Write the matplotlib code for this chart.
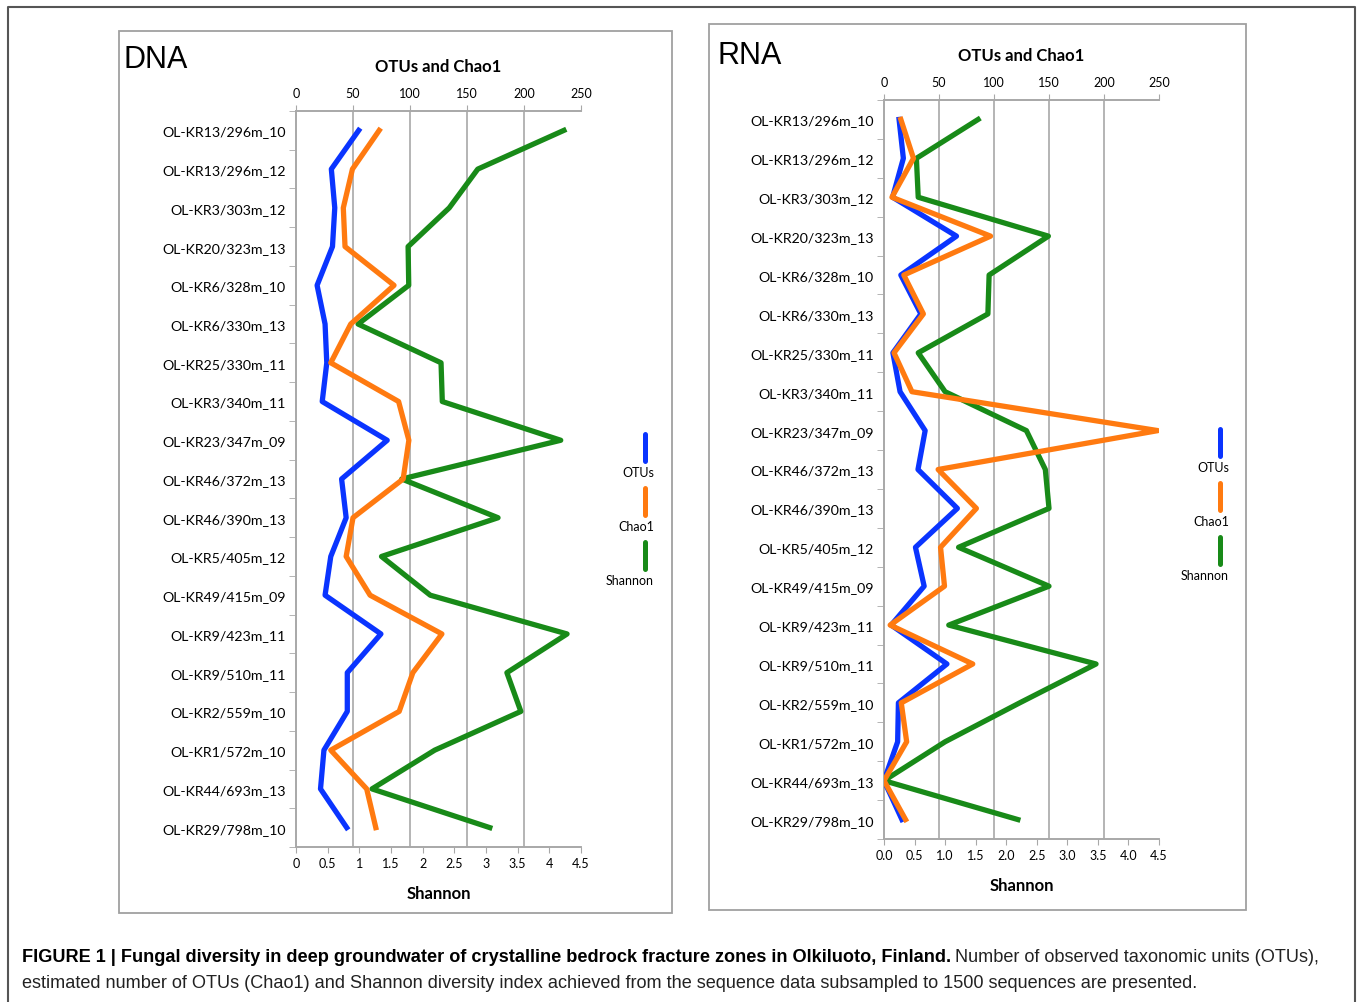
#!/usr/bin/env python3

"""
fungal diversity in groundwater: OTUs, Chao1, Shannon per sample, DNA vs RNA
"""

import numpy as np
import matplotlib
matplotlib.use("Agg")
import matplotlib.pyplot as plt
from matplotlib.lines import Line2D
from matplotlib.patches import Rectangle

# samples, top to bottom (same order for both panels)
SAMPLES = ["OL-KR13/296m_10", "OL-KR13/296m_12", "OL-KR3/303m_12", "OL-KR20/323m_13",
           "OL-KR6/328m_10", "OL-KR6/330m_13", "OL-KR25/330m_11", "OL-KR3/340m_11",
           "OL-KR23/347m_09", "OL-KR46/372m_13", "OL-KR46/390m_13", "OL-KR5/405m_12",
           "OL-KR49/415m_09", "OL-KR9/423m_11", "OL-KR9/510m_11", "OL-KR2/559m_10",
           "OL-KR1/572m_10", "OL-KR44/693m_13", "OL-KR29/798m_10"]

# DNA
DNA_OTUS    = [55, 31, 34, 32, 18.5, 25.5, 27, 23, 80, 40, 44, 30.5, 25.5, 74.5, 45, 45, 24.5, 21.5, 44.5]
DNA_CHAO1   = [73, 49.5, 41.5, 43, 86, 48, 30.5, 90, 99, 94, 50, 44, 65, 128, 102.5, 90.5, 30.5, 62, 70]
DNA_SHANNON = [4.23, 2.87, 2.42, 1.77, 1.78, 0.98, 2.29, 2.31, 4.18, 1.67, 3.19, 1.35, 2.12, 4.28,
               3.33, 3.55, 2.19, 1.20, 3.06]

# RNA
RNA_OTUS    = [13.7, 17.6, 7.8, 65.9, 15.3, 33.5, 8.1, 14.6, 37.4, 30.9, 66.7, 28.6, 36.5, 6.5,
               57.2, 13.1, 12.4, 0, 16.3]
RNA_CHAO1   = [15.3, 26.8, 7.2, 96.9, 18, 35.8, 9.1, 25.4, 249, 49.2, 84, 51.4, 55, 5.6, 80.7,
               15.7, 20.6, 0, 19.6]
RNA_SHANNON = [1.54, 0.53, 0.56, 2.69, 1.72, 1.70, 0.56, 1.00, 2.33, 2.64, 2.70, 1.22, 2.70, 1.06,
               3.47, 2.22, 1.00, 0, 2.19]

OTU_TICKS = [0, 50, 100, 150, 200, 250]
SHANNON_TICKS = [0, 0.5, 1, 1.5, 2, 2.5, 3, 3.5, 4, 4.5]
DNA_SH_LABELS = ["0", "0.5", "1", "1.5", "2", "2.5", "3", "3.5", "4", "4.5"]
RNA_SH_LABELS = ["0.0", "0.5", "1.0", "1.5", "2.0", "2.5", "3.0", "3.5", "4.0", "4.5"]

BLUE, ORANGE, GREEN = "#0a34ff", "#ff7a10", "#188a18"
GRID = "#a8a8a8"

W, H = 1358, 1003
plt.rcParams['font.family'] = ['Lato', 'DejaVu Sans']


def fx(x):
    return x / W


def fy(y):
    return 1 - y / H


def panel(fig, name, name_xy, rect, frame, otus, chao1, shannon, sh_labels, title_y, leg_x, leg_y):
    l, t, r, b = rect
    fig.add_artist(Rectangle((fx(frame[0]), fy(frame[3])), (frame[2] - frame[0]) / W,
                             (frame[3] - frame[1]) / H, transform=fig.transFigure,
                             fill=False, ec="#a0a0a0", lw=1.3))
    fig.text(fx(name_xy[0]), fy(name_xy[1]), name, fontsize=22,
             family="Liberation Sans", va="center", ha="left")

    ax = fig.add_axes([fx(l), fy(b), (r - l) / W, (b - t) / H])
    ax2 = ax.twiny()
    y = np.arange(len(SAMPLES))

    # shannon on the bottom axis, drawn first
    ax.plot(shannon, y, color=GREEN, lw=3.8, zorder=3)
    ax.set_xlim(0, 4.5)
    ax.set_ylim(len(SAMPLES) - 0.5, -0.5)
    ax.set_xticks(SHANNON_TICKS, sh_labels, fontsize=9)
    # vertical grid at the OTU ticks
    ax.set_xticks(np.array(OTU_TICKS[1:]) / 250 * 4.5, minor=True)
    ax.grid(which="minor", axis="x", color=GRID, lw=1.2)
    ax.set_axisbelow(True)
    ax.set_yticks(y, SAMPLES, fontsize=10.2)
    ax.set_yticks(np.arange(-0.5, len(SAMPLES)), minor=True)
    ax.tick_params(axis="y", which="major", length=0, pad=7.5)
    ax.tick_params(axis="y", which="minor", length=5, color=GRID, direction="out")
    ax.tick_params(axis="x", which="major", length=4, color=GRID, pad=3)
    ax.tick_params(axis="x", which="minor", length=0)
    ax.set_xlabel("Shannon", fontsize=12, fontweight="bold", labelpad=12)

    ax2.plot(otus, y, color=BLUE, lw=3.8, zorder=3)
    ax2.plot(chao1, y, color=ORANGE, lw=3.8, zorder=4)
    ax2.set_xlim(0, 250)
    ax2.set_xticks(OTU_TICKS, [str(v) for v in OTU_TICKS], fontsize=9)
    ax2.tick_params(axis="x", length=4, color=GRID, pad=5)
    ax2.patch.set_visible(False)

    for a in (ax, ax2):
        a.spines["right"].set_visible(False)
        for s in ("left", "top", "bottom"):
            a.spines[s].set_color(GRID)
            a.spines[s].set_linewidth(1.2)

    fig.text(fx((l + r) / 2), fy(title_y), "OTUs and Chao1", fontsize=12,
             fontweight="bold", ha="center", va="center")

    # legend: short vertical strokes with the name under each
    for i, (c, lab) in enumerate([(BLUE, "OTUs"), (ORANGE, "Chao1"), (GREEN, "Shannon")]):
        y0 = leg_y + 54 * i
        fig.add_artist(Line2D([fx(leg_x), fx(leg_x)], [fy(y0), fy(y0 + 27)],
                              transform=fig.transFigure, color=c, lw=3.6,
                              solid_capstyle="round"))
        fig.text(fx(leg_x + 9), fy(y0 + 38), lab, fontsize=9, ha="right", va="center")


fig = plt.figure(figsize=(W / 100, H / 100), dpi=100)

# outer frame (open at the bottom)
fig.add_artist(Line2D([fx(8), fx(8), fx(1355), fx(1355)], [0, fy(8), fy(8), 0],
                      transform=fig.transFigure, color="#555555", lw=1.5))

panel(fig, "DNA", (123, 60), (296, 112, 581, 848), (119, 32, 672, 914),
      DNA_OTUS, DNA_CHAO1, DNA_SHANNON, DNA_SH_LABELS, 67, 645, 435)
panel(fig, "RNA", (717, 56), (884, 101, 1159, 840), (709, 25, 1246, 911),
      RNA_OTUS, RNA_CHAO1, RNA_SHANNON, RNA_SH_LABELS, 56, 1220, 430)

# caption, bold lead then plain text on the same line
cap_font = dict(fontsize=13.1, family="Liberation Sans", va="center", ha="left")
bold = fig.text(fx(22), fy(958), "FIGURE 1 | Fungal diversity in deep groundwater of crystalline "
                "bedrock fracture zones in Olkiluoto, Finland.", fontweight="bold", **cap_font)
renderer = fig.canvas.get_renderer()
bb = bold.get_window_extent(renderer)
fig.text(bb.x1 / W + fx(4), fy(958), "Number of observed taxonomic units (OTUs),",
         color="#222222", **cap_font)
fig.text(fx(22), fy(984), "estimated number of OTUs (Chao1) and Shannon diversity index achieved "
         "from the sequence data subsampled to 1500 sequences are presented.",
         color="#222222", **cap_font)

fig.savefig("out.png", dpi=100)
